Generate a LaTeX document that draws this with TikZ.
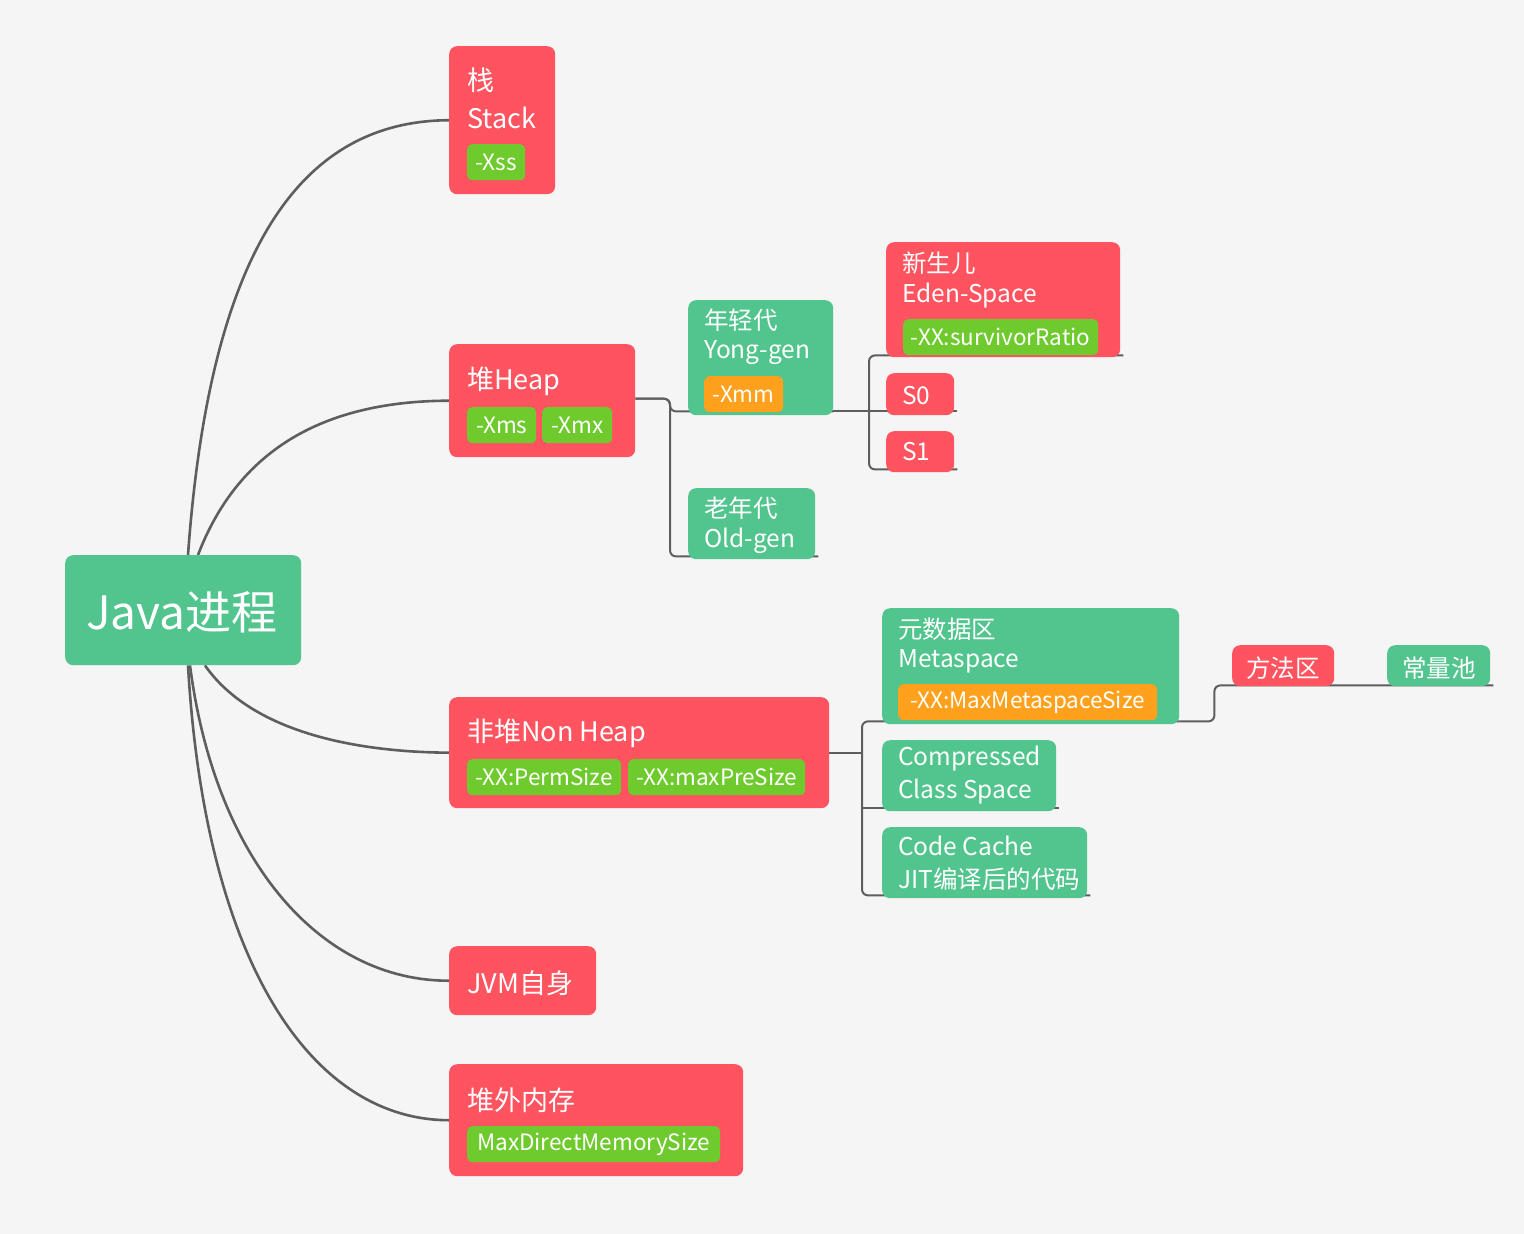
\documentclass[tikz,border=0pt]{standalone}
\usepackage{fontspec}
\setmainfont{Noto Sans CJK SC}
\usetikzlibrary{calc}
\pgfdeclarelayer{lines}
\pgfsetlayers{lines,main}
\definecolor{cBg}{HTML}{F5F5F5}
\definecolor{cRed}{HTML}{FF5460}
\definecolor{cGreen}{HTML}{52C48D}
\definecolor{cTag}{HTML}{6FCA2E}
\definecolor{cOrange}{HTML}{FFA11C}
\definecolor{cLine}{HTML}{5E5E5E}
\tikzset{
  rbox/.style={fill=cRed, rounded corners=8pt, inner sep=0pt, anchor=north west},
  gbox/.style={fill=cGreen, rounded corners=8pt, inner sep=0pt, anchor=north west},
  txt/.style={text=white, inner sep=0pt, anchor=west, font=\fontsize{27}{32}\selectfont},
  stxt/.style={txt, font=\fontsize{24.5}{29}\selectfont},
  gtag/.style={fill=cTag, text=white, rounded corners=5pt, inner sep=0pt, minimum height=36pt, anchor=north west, font=\fontsize{22.5}{27}\selectfont},
  otag/.style={gtag, fill=cOrange},
  curve/.style={draw=cLine, line width=2.6pt},
  conn/.style={draw=cLine, line width=2pt, rounded corners=6pt},
}
\begin{document}
\begin{tikzpicture}[x=1pt,y=-1pt]
\begin{pgfonlayer}{lines}
\fill[cBg] (0,0) rectangle (1524,1234);
\end{pgfonlayer}
\useasboundingbox (0,0) rectangle (1524,1234);

% boxes
\node[gbox, minimum width=236, minimum height=110] (root) at (65,555) {};
\node[rbox, minimum width=106, minimum height=148] (stack) at (449,46) {};
\node[rbox, minimum width=186, minimum height=113] (heap) at (449,344) {};
\node[gbox, minimum width=145, minimum height=115] (yong) at (688,300) {};
\node[gbox, minimum width=127, minimum height=71] (old) at (688,488) {};
\node[rbox, minimum width=234, minimum height=115] (eden) at (886,242) {};
\node[rbox, minimum width=68, minimum height=42] (s0) at (886,373) {};
\node[rbox, minimum width=68, minimum height=41] (s1) at (886,431) {};
\node[rbox, minimum width=380, minimum height=111] (nonheap) at (449,697) {};
\node[gbox, minimum width=297, minimum height=116] (meta) at (882,608) {};
\node[gbox, minimum width=174, minimum height=71] (comp) at (882,740) {};
\node[gbox, minimum width=205, minimum height=71] (code) at (882,827) {};
\node[rbox, minimum width=102, minimum height=41] (fang) at (1232,645) {};
\node[gbox, minimum width=103, minimum height=41] (chang) at (1387,645) {};
\node[rbox, minimum width=147, minimum height=69] (jvm) at (449,946) {};
\node[rbox, minimum width=294, minimum height=112] (offheap) at (449,1064) {};

% connectors, behind the boxes
\begin{pgfonlayer}{lines}
\draw[curve] ($(root.north west)+(123,0)$) .. controls (210,250) and (300,121) .. (stack.west);
\draw[curve] ($(root.north west)+(133,0)$) .. controls (240,445) and (330,401) .. (heap.west);
\draw[curve] ($(root.south west)+(140,0)$) .. controls (250,730) and (350,752) .. (nonheap.west);
\draw[curve] ($(root.south west)+(125,0)$) .. controls (215,860) and (320,981) .. (jvm.west);
\draw[curve] ($(root.south west)+(123,0)$) .. controls (205,960) and (310,1120) .. (offheap.west);

\draw[conn] ($(heap.east)+(0,-2)$) -| ($(yong.south west)+(-18,-4)$) -- ($(yong.south east)+(0,-4)$);
\draw[conn] ($(heap.east)+(0,-2)$) -| ($(old.south west)+(-18,-3)$) -- ($(old.south east)+(3,-3)$);
\draw[conn] ($(yong.south east)+(0,-4)$) -- ($(s0.south east)+(3,-4)$);
\draw[conn] ($(eden.south east)+(3,-2)$) -- ($(eden.south west)+(0,-2)$) -| ($(s1.south west)+(-17,-3)$) -- ($(s1.south east)+(3,-3)$);
\draw[conn] (nonheap.east) -- ($(nonheap.east)+(33,0)$);
\draw[conn] ($(meta.south east)+(0,-3)$) -- ($(meta.south west)+(0,-3)$) -| ($(code.south west)+(-20,-3)$) -- ($(code.south east)+(3,-3)$);
\draw[conn] ($(comp.south west)+(-20,-3)$) -- ($(comp.south east)+(3,-3)$);
\draw[conn] ($(meta.south east)+(0,-3)$) -- ($(meta.south east)+(35,-3)$) |- ($(fang.south west)+(0,-1)$) -- ($(chang.south east)+(3,-1)$);
\end{pgfonlayer}

% texts
\node[txt, anchor=center, font=\fontsize{46}{52}\selectfont] (troot) at (182,612) {Java进程};

\node[txt] (t1) at (467,80) {栈};
\node[txt] (t2) at (467,118) {Stack};
\node[gtag, minimum width=58] (tg1) at (467,144) {-Xss};

\node[txt] (t3) at (467,381) {堆Heap};
\node[gtag, minimum width=69] (tg2) at (467,407) {-Xms};
\node[gtag, minimum width=70] (tg3) at (542,407) {-Xmx};

\node[stxt] (t4) at (704,320) {年轻代};
\node[stxt] (t5) at (704,353) {Yong-gen};
\node[otag, minimum width=79] (tg4) at (704,376) {-Xmm};

\node[stxt] (t6) at (704,508) {老年代};
\node[stxt] (t7) at (704,541) {Old-gen};

\node[stxt] (t8) at (902,263) {新生儿};
\node[stxt] (t9) at (902,296) {Eden-Space};
\node[gtag, minimum width=195] (tg5) at (903,319) {-XX:survivorRatio};

\node[stxt] (t10) at (902,396) {S0};
\node[stxt] (t11) at (902,452) {S1};

\node[txt] (t12) at (467,733) {非堆Non Heap};
\node[gtag, minimum width=154] (tg6) at (467,759) {-XX:PermSize};
\node[gtag, minimum width=177] (tg7) at (628,759) {-XX:maxPreSize};

\node[stxt] (t13) at (898,629) {元数据区};
\node[stxt] (t14) at (898,661) {Metaspace};
\node[otag, minimum width=259] (tg8) at (898,684) {-XX:MaxMetaspaceSize};

\node[stxt] (t15) at (898,759) {Compressed};
\node[stxt] (t16) at (898,792) {Class Space};

\node[stxt] (t17) at (898,846) {Code Cache};
\node[stxt] (t18) at (898,879) {JIT编译后的代码};

\node[stxt, anchor=center] (t19) at (1283,668) {方法区};
\node[stxt, anchor=center] (t20) at (1439,668) {常量池};

\node[txt] (t21) at (467,983) {JVM自身};

\node[txt] (t22) at (467,1100) {堆外内存};
\node[gtag, minimum width=253] (tg9) at (467,1126) {MaxDirectMemorySize};
\end{tikzpicture}
\end{document}
